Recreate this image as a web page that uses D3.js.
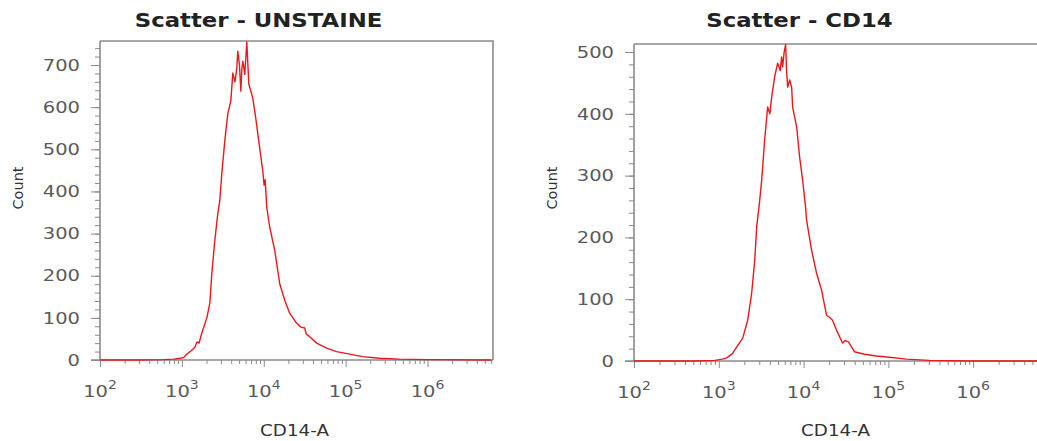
<!DOCTYPE html>
<html>
<head>
<meta charset="utf-8">
<script src="https://cdn.jsdelivr.net/npm/d3@7"></script>
<style>
  html, body { margin: 0; padding: 0; background: #fff; overflow: hidden; }
  svg { display: block; }
</style>
</head>
<body>
<svg id="chart" width="1037" height="441"></svg>
<script>
// CD14-A intensity (channel value) and event count of each histogram point
const unstainedX = [100, 300, 600, 800, 950, 1050, 1151, 1300, 1442, 1525, 1620, 1754, 2018, 2194,
  2322, 2525, 2746, 2904, 3073, 3344, 3637, 3962, 4189, 4450, 4687, 4820, 5050, 5248, 5400, 5550,
  5867, 6208, 6565, 7345, 7985, 8690, 9727, 10100, 10400, 10880, 11840, 13620, 15670, 18030, 20750,
  25240, 28500, 31620, 33000, 36380, 44280, 58640, 77630, 111900, 161200, 259900, 456000, 1000000, 6000000];
const unstainedCount = [0, 0, 1, 2, 4, 6, 14, 22, 30, 43, 40, 64, 100, 135,
  205, 284, 347, 378, 442, 520, 584, 615, 681, 660, 693, 733, 700, 638, 690, 709,
  678, 755, 655, 622, 574, 520, 449, 415, 428, 362, 315, 260, 181, 142, 111,
  87, 78, 76, 62, 55, 40, 28, 20, 14, 8, 4, 2, 1, 0];

const cd14X = [100, 500, 900, 1100, 1242, 1450, 1629, 1915, 2193, 2443, 2653, 2799, 3037, 3206,
  3477, 3770, 4000, 4204, 4559, 4943, 5300, 5511, 5663, 5900, 6140, 6300, 6486, 6850, 7230, 7429,
  8283, 8981, 9738, 10560, 10850, 12410, 14220, 16290, 18660, 20500, 21940, 24450, 28760, 31000,
  33810, 39770, 52200, 72290, 102800, 163000, 303000, 1000000, 6000000];
const cd14Count = [0, 0, 1, 3, 5, 12, 23, 37, 66, 110, 163, 217, 260, 293,
  358, 411, 400, 427, 460, 482, 470, 492, 476, 500, 512, 470, 443, 455, 443, 411,
  379, 330, 293, 249, 228, 180, 142, 115, 74, 70, 66, 50, 29, 33,
  31, 15, 11, 8, 6, 3, 1, 0, 0];

const unstainedYTicks = [0, 100, 200, 300, 400, 500, 600, 700];
const cd14YTicks = [0, 100, 200, 300, 400, 500];
const xDecades = [2, 3, 4, 5, 6];
const panelTitles = ["Scatter - UNSTAINE", "Scatter - CD14"];
const xAxisLabel = "CD14-A";
const yAxisLabel = "Count";

const svg = d3.select("#chart");
const FONT = "'DejaVu Sans', Verdana, sans-serif";
const STRETCH = 1.22;          // wide lettering of the cytometer export
const AXIS = "#8a8a8a";
const LABEL = "#5a5a5a";
const CURVE = "#e5191f";

function drawPanel(p) {
  const x = d3.scaleLog().domain([1e2, Math.pow(10, 6.8)]).range([p.left, p.right]);
  const y = d3.scaleLinear().domain([0, p.yMax]).range([p.bottom, p.top]);
  const g = svg.append("g");

  // top and right edges of the plot frame
  g.append("path")
    .attr("d", `M${p.left},${p.top}H${p.right}V${p.bottom}`)
    .attr("fill", "none").attr("stroke", AXIS).attr("stroke-width", 1.6);

  // y axis: majors every 100, minors every 20
  const yMinor = d3.range(0, p.yMax, 20);
  const yMinorAxis = g.append("g").attr("transform", `translate(${p.left},0)`)
    .call(d3.axisLeft(y).tickValues(yMinor).tickSize(5).tickFormat(""));
  const yMajorAxis = g.append("g").attr("transform", `translate(${p.left},0)`)
    .call(d3.axisLeft(y).tickValues(p.yTicks).tickSize(9).tickFormat(""));
  [yMinorAxis, yMajorAxis].forEach(a => {
    a.select(".domain").remove();
    a.selectAll("line").attr("stroke", AXIS);
  });
  g.append("line")
    .attr("x1", p.left).attr("x2", p.left).attr("y1", p.top).attr("y2", p.bottom)
    .attr("stroke", AXIS).attr("stroke-width", 1.6);

  g.selectAll(".ylab").data(p.yTicks).enter().append("text")
    .attr("transform", d => `translate(${p.left - 20},${y(d)}) scale(${STRETCH},1)`)
    .attr("dy", "0.36em")
    .attr("text-anchor", "end")
    .attr("font-family", FONT).attr("font-size", 16)
    .attr("fill", LABEL)
    .text(d => d);

  // x axis: decades with 2..9 minor ticks
  const xMinor = [];
  for (let e = 2; e <= 6; e++) for (let k = 2; k <= 9; k++) {
    const v = k * Math.pow(10, e);
    if (v <= x.domain()[1]) xMinor.push(v);
  }
  const xMinorAxis = g.append("g").attr("transform", `translate(0,${p.bottom})`)
    .call(d3.axisBottom(x).tickValues(xMinor).tickSize(4).tickFormat(""));
  const xMajorAxis = g.append("g").attr("transform", `translate(0,${p.bottom})`)
    .call(d3.axisBottom(x).tickValues(xDecades.map(e => Math.pow(10, e))).tickSize(7).tickFormat(""));
  [xMinorAxis, xMajorAxis].forEach(a => {
    a.select(".domain").remove();
    a.selectAll("line").attr("stroke", AXIS);
  });
  g.append("line")
    .attr("x1", p.left - 9).attr("x2", p.right).attr("y1", p.bottom).attr("y2", p.bottom)
    .attr("stroke", AXIS).attr("stroke-width", 1.6);

  const xl = g.selectAll(".xlab").data(xDecades).enter().append("text")
    .attr("transform", d => `translate(${x(Math.pow(10, d))},${p.bottom + 37}) scale(${STRETCH},1)`)
    .attr("text-anchor", "middle")
    .attr("font-family", FONT).attr("font-size", 16)
    .attr("fill", LABEL);
  xl.append("tspan").text("10");
  xl.append("tspan").attr("dy", -8).attr("font-size", 11.5).text(d => d);

  // histogram trace
  const line = d3.line().x((d, i) => x(p.xs[i])).y(d => y(d));
  g.append("path")
    .datum(p.ys)
    .attr("d", line)
    .attr("fill", "none")
    .attr("stroke", CURVE)
    .attr("stroke-width", 1.4)
    .attr("stroke-linejoin", "round");

  // titles and axis labels
  g.append("text")
    .attr("transform", `translate(${(p.left + p.right) / 2 - 38},27) scale(1.2,1)`)
    .attr("text-anchor", "middle")
    .attr("font-family", FONT).attr("font-size", 19).attr("font-weight", "bold")
    .attr("fill", "#222")
    .text(p.title);

  g.append("text")
    .attr("transform", `translate(${(p.left + p.right) / 2 - 2},436) scale(${STRETCH},1)`)
    .attr("text-anchor", "middle")
    .attr("font-family", FONT).attr("font-size", 15)
    .attr("fill", "#333")
    .text(xAxisLabel);

  g.append("text")
    .attr("transform", `translate(${p.left - 77},188) rotate(-90)`)
    .attr("text-anchor", "middle")
    .attr("font-family", FONT).attr("font-size", 14.5)
    .attr("fill", "#333")
    .text(yAxisLabel);
}

drawPanel({ left: 100, right: 493, top: 41, bottom: 360, yMax: 757,
  xs: unstainedX, ys: unstainedCount, yTicks: unstainedYTicks, title: panelTitles[0] });
drawPanel({ left: 634, right: 1041, top: 44, bottom: 361, yMax: 513,
  xs: cd14X, ys: cd14Count, yTicks: cd14YTicks, title: panelTitles[1] });
</script>
</body>
</html>
